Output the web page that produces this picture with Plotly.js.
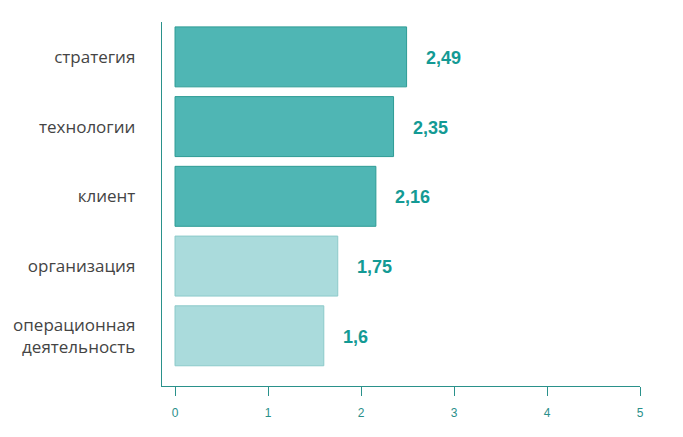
<!DOCTYPE html>
<html>
<head>
<meta charset="utf-8">
<script src="https://cdn.plot.ly/plotly-3.0.1.min.js"></script>
<style>html,body{margin:0;padding:0;background:#fff;}#chart{width:683px;height:437px;}</style>
</head>
<body>
<div id="chart"></div>
<script>
const categories = ["стратегия", "технологии", "клиент", "организация", "операционная<br>деятельность"];
const values = [2.49, 2.35, 2.16, 1.75, 1.6];
const valueLabels = ["2,49", "2,35", "2,16", "1,75", "1,6"];
const groups = ["dark", "dark", "dark", "light", "light"];
const tickVals = [0, 1, 2, 3, 4, 5];
const tickText = ["0", "1", "2", "3", "4", "5"];

const fillColors = groups.map(g => g === "dark" ? "#4fb6b4" : "#aadbdc");
const lineColors = groups.map(g => g === "dark" ? "#2e9c95" : "#8ccaca");

const trace = {
  type: "bar",
  orientation: "h",
  x: values,
  y: categories,
  width: 0.86,
  marker: {color: fillColors, line: {color: lineColors, width: 1}},
  hoverinfo: "none"
};

const annotations = values.map((v, i) => ({
  x: v, y: categories[i], xref: "x", yref: "y",
  text: valueLabels[i], showarrow: false,
  xanchor: "left", yanchor: "middle", xshift: 17, yshift: -1,
  font: {family: "Liberation Sans, Arial, sans-serif", size: 18, color: "#139a94", weight: "bold"}
}));

const layout = {
  width: 683, height: 437,
  margin: {l: 162, r: 43, t: 22, b: 51},
  paper_bgcolor: "#ffffff", plot_bgcolor: "#ffffff",
  showlegend: false,
  xaxis: {
    range: [-0.14, 5.0],
    tickvals: tickVals, ticktext: tickText,
    showgrid: false, zeroline: false,
    showline: true, linecolor: "#2a918b", linewidth: 1.3,
    ticks: "outside", ticklen: 9, tickcolor: "#2a918b", tickwidth: 1,
    ticklabelstandoff: 6,
    tickfont: {family: "Liberation Sans, Arial, sans-serif", size: 12, color: "#2a8f8a"},
    fixedrange: true
  },
  yaxis: {
    type: "category",
    categoryorder: "array", categoryarray: categories,
    range: [4.72, -0.5],
    showgrid: false, zeroline: false,
    showline: true, linecolor: "#2a918b", linewidth: 1.3,
    ticks: "", ticklabelstandoff: 22,
    tickfont: {family: "Open Sans, Noto Sans, sans-serif", size: 17, color: "#444444"},
    fixedrange: true
  },
  annotations: annotations
};

Plotly.newPlot("chart", [trace], layout, {displayModeBar: false, staticPlot: true});
</script>
</body>
</html>
